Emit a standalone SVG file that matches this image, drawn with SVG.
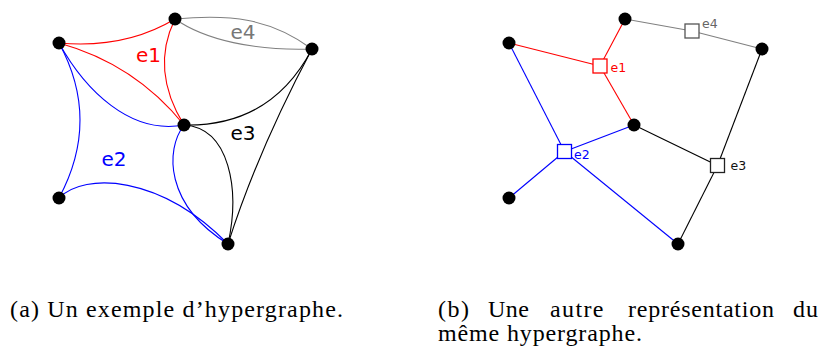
<svg xmlns="http://www.w3.org/2000/svg" width="821" height="347" viewBox="0 0 821 347">
<style>
  .e { fill: none; stroke-width: 1.1; }
  .red { stroke: #ff0000; }
  .blue { stroke: #0000ff; }
  .gray { stroke: #808080; }
  .blk { stroke: #000000; }
  .node { fill: #000000; }
  .box { fill: #ffffff; stroke-width: 1.3; }
  .lbl { font-family: "DejaVu Sans", sans-serif; font-size: 20px; }
  .slbl { font-family: "DejaVu Sans", sans-serif; font-size: 12.5px; }
  .cap { font-family: "Liberation Serif", serif; font-size: 24px; fill: #000; }
</style>
<rect width="821" height="347" fill="#ffffff"/>

<!-- Left: hypergraph drawn with curves -->
<g id="connectors-a">
  <!-- e1 -->
  <path class="e red" d="M59,43 Q125,49 175,19"/>
  <path class="e red" d="M59,43 Q135,64 184,125"/>
  <path class="e red" d="M175,19 Q150,70 184,125"/>
  <!-- e4 -->
  <path class="e gray" d="M175,19 C230,14 270,18 312,49"/>
  <path class="e gray" d="M175,19 C205,40 255,51 312,49"/>
  <!-- e3 -->
  <path class="e blk" d="M184,125 Q271,127 312,49"/>
  <path class="e blk" d="M184,125 C230,128 240,190 228,244"/>
  <path class="e blk" d="M312,49 Q258,150 228,244"/>
  <!-- e2 -->
  <path class="e blue" d="M59,43 C85,90 130,135 184,125"/>
  <path class="e blue" d="M59,43 Q101,120 59,198"/>
  <path class="e blue" d="M59,198 C85,172 160,175 228,244"/>
  <path class="e blue" d="M184,125 C165,150 165,205 228,244"/>
</g>
<g id="labels-a">
  <text class="lbl" x="136" y="62" fill="#ff0000">e1</text>
  <text class="lbl" x="230.5" y="39" fill="#777777">e4</text>
  <text class="lbl" x="230.5" y="140" fill="#000000">e3</text>
  <text class="lbl" x="101.5" y="166" fill="#0000ff">e2</text>
</g>
<g id="nodes-a">
  <circle id="a-v1" class="node" cx="59" cy="43" r="6.5"/>
  <circle id="a-v2" class="node" cx="175" cy="19" r="6.5"/>
  <circle id="a-v3" class="node" cx="312" cy="49" r="6.5"/>
  <circle id="a-v4" class="node" cx="184" cy="125" r="6.5"/>
  <circle id="a-v5" class="node" cx="59" cy="198" r="6.5"/>
  <circle id="a-v6" class="node" cx="228" cy="244" r="6.5"/>
</g>

<!-- Right: bipartite representation -->
<g id="connectors-b">
  <line class="e red" x1="509" y1="43" x2="600" y2="66"/>
  <line class="e red" x1="625" y1="19" x2="600" y2="66"/>
  <line class="e red" x1="634" y1="125" x2="600" y2="66"/>
  <line class="e gray" x1="625" y1="19" x2="692" y2="31"/>
  <line class="e gray" x1="762" y1="49" x2="692" y2="31"/>
  <line class="e blue" x1="509" y1="43" x2="564.5" y2="151.5"/>
  <line class="e blue" x1="509" y1="198" x2="564.5" y2="151.5"/>
  <line class="e blue" x1="634" y1="125" x2="564.5" y2="151.5"/>
  <line class="e blue" x1="678" y1="244" x2="564.5" y2="151.5"/>
  <line class="e blk" x1="634" y1="125" x2="717.5" y2="165.5"/>
  <line class="e blk" x1="762" y1="49" x2="717.5" y2="165.5"/>
  <line class="e blk" x1="678" y1="244" x2="717.5" y2="165.5"/>
</g>
<g id="nodes-b">
  <circle id="b-v1" class="node" cx="509" cy="43" r="6.5"/>
  <circle id="b-v2" class="node" cx="625" cy="19" r="6.5"/>
  <circle id="b-v3" class="node" cx="762" cy="49" r="6.5"/>
  <circle id="b-v4" class="node" cx="634" cy="125" r="6.5"/>
  <circle id="b-v5" class="node" cx="509" cy="198" r="6.5"/>
  <circle id="b-v6" class="node" cx="678" cy="244" r="6.5"/>
</g>
<g id="edge-e1">
  <rect class="box" x="593" y="59" width="14" height="14" stroke="#ff0000"/>
  <text class="slbl" x="610.5" y="71.5" fill="#ff0000">e1</text>
</g>
<g id="edge-e4">
  <rect class="box" x="685" y="24" width="14" height="14" stroke="#555555"/>
  <text class="slbl" x="702" y="28" fill="#666666">e4</text>
</g>
<g id="edge-e2">
  <rect class="box" x="557.5" y="144.5" width="14" height="14" stroke="#0000ff"/>
  <text class="slbl" x="574" y="159" fill="#0000ff">e2</text>
</g>
<g id="edge-e3">
  <rect class="box" x="710.5" y="158.5" width="14" height="14" stroke="#222222"/>
  <text class="slbl" x="730.5" y="170" fill="#111111">e3</text>
</g>

<!-- Captions -->
<g id="captions">
  <text class="cap" x="10" y="317" textLength="333" lengthAdjust="spacing">(a) Un exemple d’hypergraphe.</text>
  <text class="cap"><tspan x="438" y="317" textLength="31" lengthAdjust="spacing">(b)</tspan><tspan x="488" y="317" textLength="41" lengthAdjust="spacing">Une</tspan><tspan x="550" y="317" textLength="53.5" lengthAdjust="spacing">autre</tspan><tspan x="628" y="317" textLength="146" lengthAdjust="spacing">représentation</tspan><tspan x="793" y="317" textLength="25" lengthAdjust="spacing">du</tspan><tspan x="438" y="341" textLength="204" lengthAdjust="spacing">même hypergraphe.</tspan></text>
</g>
</svg>
